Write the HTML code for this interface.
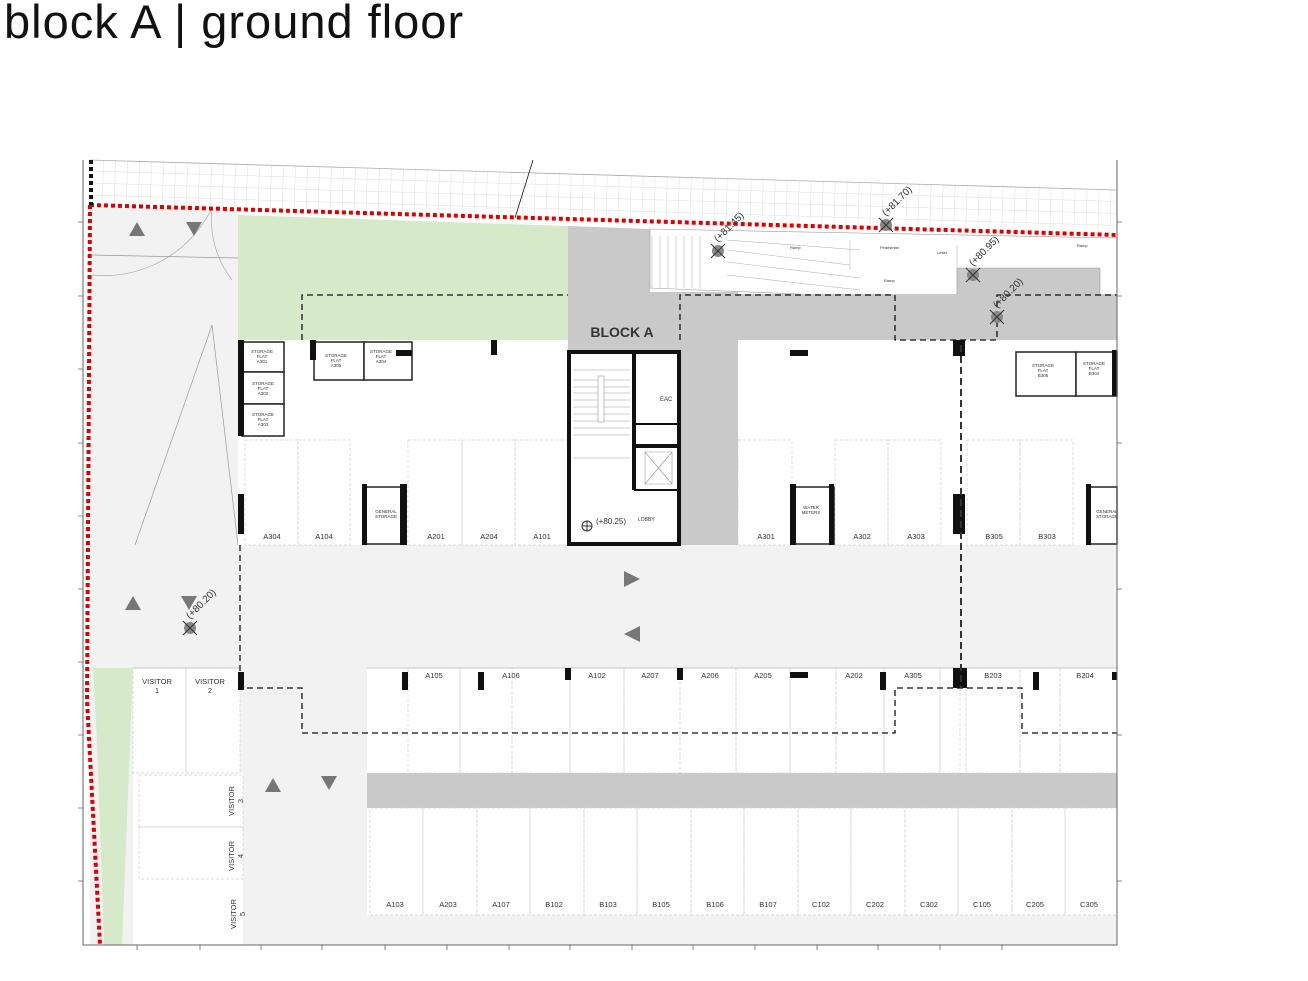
<!DOCTYPE html>
<html><head><meta charset="utf-8"><style>
html,body{margin:0;padding:0;background:#fff;width:1308px;height:981px;overflow:hidden}
.t{position:absolute;left:4px;top:-6px;font-family:"Liberation Sans",sans-serif;font-size:47px;font-weight:300;color:#111;letter-spacing:1px}
svg{position:absolute;left:0;top:0}
text{font-family:"Liberation Sans",sans-serif;fill:#333}
</style></head><body>
<div class="t">block A | ground floor</div>
<svg width="1308" height="981" viewBox="0 0 1308 981">
<defs>
<pattern id="h" width="12" height="12" patternUnits="userSpaceOnUse" patternTransform="rotate(1.7)">
<path d="M0 0H12M0 0V12" stroke="#d4d4d4" stroke-width="0.7" fill="none"/></pattern>
</defs>
<polygon points="90,160 1117,190 1117,235 90,205" fill="url(#h)"/>
<line x1="90" y1="160" x2="1117" y2="190" stroke="#aaa" stroke-width="0.8"/>
<rect x="90" y="208" width="148" height="337" fill="#f2f2f2"/>
<path d="M90 255L238 258 M135 545L212 325L238 545" stroke="#999" stroke-width="0.7" fill="none"/>
<path d="M92 275A120 120 0 0 0 212 208 M212 208A100 100 0 0 0 232 280" stroke="#aaa" stroke-width="0.7" fill="none"/>
<polygon points="137,222 129,236 145,236" fill="#777"/>
<polygon points="186,222 202,222 194,236" fill="#777"/>
<polygon points="238,215 568,226 568,340 238,340" fill="#d6e9c9"/>
<polygon points="568,226 650,229 650,295 680,295 680,545 738,545 738,340 1117,340 1117,295 1100,295 1100,268 957,268 957,295 650,295 650,350 568,350" fill="#c9c9c9"/>
<polygon points="650,229 1117,238 1117,295 1100,295 1100,268 957,268 957,295 895,298 650,288" fill="#fff" stroke="#999" stroke-width="0.6"/>
<rect x="568" y="292" width="170" height="60" fill="#c9c9c9"/>
<rect x="650" y="294" width="467" height="46" fill="#c9c9c9"/>
<g stroke="#aaa" stroke-width="0.5" fill="none">
<path d="M652 236V288 M660 236V288 M668 236V288 M676 236V288 M684 236V288 M692 236V288 M700 236V288"/>
<path d="M727 240L860 250 M727 250L850 265 M727 262L860 278 M727 275L860 290 M850 240V270 M957 245V268"/>
</g>
<text x="790" y="249" font-size="4">Ramp</text><text x="880" y="249" font-size="4">Pedestrian</text>
<text x="937" y="254" font-size="4">Letter</text><text x="884" y="282" font-size="4">Ramp</text><text x="1077" y="247" font-size="4">Ramp</text>
<rect x="238" y="340" width="330" height="205" fill="#fff"/>
<rect x="738" y="340" width="379" height="205" fill="#fff"/>
<rect x="568" y="350" width="112" height="195" fill="#fff"/>
<rect x="90" y="545" width="1027" height="123" fill="#f2f2f2"/>
<rect x="240" y="668" width="127" height="277" fill="#f2f2f2"/>
<rect x="90" y="668" width="43" height="277" fill="#f2f2f2"/>
<polygon points="93,668 133,668 122,945 104,945 97,740" fill="#d6e9c9"/>
<rect x="133" y="668" width="107" height="105" fill="#fff"/>
<rect x="137" y="773" width="106" height="172" fill="#fff"/>
<rect x="367" y="668" width="750" height="105" fill="#fff"/>
<rect x="367" y="773" width="750" height="35" fill="#c9c9c9"/>
<rect x="367" y="808" width="750" height="107" fill="#fff"/>
<rect x="367" y="915" width="750" height="30" fill="#f2f2f2"/>
<g stroke="#d0d0d0" stroke-width="0.7" stroke-dasharray="3,2" fill="none">
<rect x="245" y="440" width="53" height="105"/><rect x="298" y="440" width="52" height="105"/>
<rect x="408" y="440" width="54" height="105"/><rect x="462" y="440" width="53" height="105"/><rect x="515" y="440" width="53" height="105"/>
<rect x="738" y="440" width="54" height="105"/><rect x="835" y="440" width="53" height="105"/><rect x="888" y="440" width="53" height="105"/>
<rect x="967" y="440" width="53" height="105"/><rect x="1020" y="440" width="53" height="105"/>
<rect x="133" y="668" width="53" height="105"/><rect x="186" y="668" width="54" height="105"/>
<rect x="139" y="775" width="104" height="52"/><rect x="139" y="827" width="104" height="52"/>
<rect x="408" y="668" width="52" height="105"/><rect x="460" y="668" width="52" height="105"/><rect x="512" y="668" width="58" height="105"/>
<rect x="570" y="668" width="54" height="105"/><rect x="624" y="668" width="56" height="105"/><rect x="680" y="668" width="56" height="105"/>
<rect x="736" y="668" width="54" height="105"/><rect x="790" y="668" width="46" height="105"/><rect x="836" y="668" width="48" height="105"/>
<rect x="884" y="668" width="56" height="105"/><rect x="940" y="668" width="20" height="105"/><rect x="966" y="668" width="54" height="105"/>
<rect x="1020" y="668" width="40" height="105"/><rect x="1060" y="668" width="57" height="105"/>
<rect x="370" y="808" width="53" height="107"/><rect x="423" y="808" width="54" height="107"/><rect x="477" y="808" width="53" height="107"/>
<rect x="530" y="808" width="54" height="107"/><rect x="584" y="808" width="53" height="107"/><rect x="637" y="808" width="54" height="107"/>
<rect x="691" y="808" width="53" height="107"/><rect x="744" y="808" width="54" height="107"/><rect x="798" y="808" width="53" height="107"/>
<rect x="851" y="808" width="54" height="107"/><rect x="905" y="808" width="53" height="107"/><rect x="958" y="808" width="54" height="107"/>
<rect x="1012" y="808" width="53" height="107"/><rect x="1065" y="808" width="52" height="107"/>
</g>
<line x1="367" y1="668" x2="1117" y2="668" stroke="#bbb" stroke-width="0.8"/>
<line x1="133" y1="668" x2="240" y2="668" stroke="#bbb" stroke-width="0.8"/>
<g fill="#fff" stroke="#222" stroke-width="1.5">
<rect x="242" y="342" width="42" height="30"/><rect x="242" y="372" width="42" height="32"/><rect x="242" y="404" width="42" height="32"/>
<rect x="314" y="342" width="50" height="38"/><rect x="364" y="342" width="48" height="38"/>
<rect x="364" y="487" width="40" height="57"/>
<rect x="794" y="487" width="40" height="57"/>
<rect x="1016" y="352" width="60" height="44"/><rect x="1076" y="352" width="41" height="44"/>
<rect x="1088" y="487" width="29" height="57"/>
</g>
<g fill="#111">
<rect x="238" y="340" width="6" height="96"/><rect x="310" y="340" width="6" height="20"/><rect x="396" y="350" width="16" height="6"/>
<rect x="491" y="340" width="6" height="15"/><rect x="790" y="350" width="18" height="6"/>
<rect x="238" y="494" width="6" height="40"/><rect x="400" y="484" width="7" height="61"/><rect x="362" y="484" width="5" height="61"/>
<rect x="790" y="484" width="6" height="61"/><rect x="829" y="484" width="5" height="61"/>
<rect x="953" y="340" width="12" height="16"/><rect x="953" y="494" width="12" height="40"/><rect x="953" y="668" width="14" height="20"/>
<rect x="1086" y="484" width="5" height="61"/><rect x="1112" y="350" width="5" height="46"/>
<rect x="402" y="672" width="6" height="18"/><rect x="478" y="672" width="6" height="18"/><rect x="565" y="668" width="6" height="12"/>
<rect x="677" y="668" width="6" height="12"/><rect x="790" y="672" width="18" height="6"/><rect x="880" y="672" width="6" height="18"/>
<rect x="1033" y="672" width="6" height="18"/><rect x="1112" y="672" width="5" height="8"/><rect x="238" y="672" width="6" height="18"/>
</g>
<g font-size="4.5" text-anchor="middle">
<text x="262" y="353">STORAGE</text><text x="262" y="358">FLAT</text><text x="262" y="363">A301</text>
<text x="263" y="385">STORAGE</text><text x="263" y="390">FLAT</text><text x="263" y="395">A302</text>
<text x="263" y="416">STORAGE</text><text x="263" y="421">FLAT</text><text x="263" y="426">A303</text>
<text x="336" y="357">STORAGE</text><text x="336" y="362">FLAT</text><text x="336" y="367">A305</text>
<text x="381" y="353">STORAGE</text><text x="381" y="358">FLAT</text><text x="381" y="363">A304</text>
<text x="386" y="513">GENERAL</text><text x="386" y="518">STORAGE</text>
<text x="811" y="509">WATER</text><text x="811" y="514">METERS</text>
<text x="1043" y="367">STORAGE</text><text x="1043" y="372">FLAT</text><text x="1043" y="377">B305</text>
<text x="1094" y="365">STORAGE</text><text x="1094" y="370">FLAT</text><text x="1094" y="375">B304</text>
<text x="1107" y="513">GENERAL</text><text x="1107" y="518">STORAGE</text>
</g>
<g fill="none" stroke="#111">
<rect x="569" y="352" width="110" height="192" stroke-width="4"/>
<line x1="634" y1="352" x2="634" y2="490" stroke-width="4"/>
<line x1="634" y1="446" x2="679" y2="446" stroke-width="4"/>
<line x1="634" y1="490" x2="679" y2="490" stroke-width="2"/>
<line x1="636" y1="424" x2="679" y2="424" stroke-width="2"/>
</g>
<g stroke="#999" stroke-width="0.6">
<path d="M573 370H630M573 380H630M573 387H630M573 393H630M573 400H630M573 407H630M573 414H630M573 421H630M573 428H630M573 435H630M573 458H630"/>
<rect x="598" y="376" width="6" height="46" fill="#fff"/><path d="M645 452H672V484H645ZM645 452L672 484M672 452L645 484" fill="none"/>
</g>
<text x="622" y="337" font-size="14" font-weight="bold" text-anchor="middle" fill="#333">BLOCK A</text>
<text x="660" y="401" font-size="6">EAC</text><text x="638" y="521" font-size="5">LOBBY</text>
<text x="596" y="524" font-size="8" fill="#555">(+80.25)</text>
<circle cx="587" cy="526" r="5" fill="none" stroke="#333"/><path d="M582 526H592M587 521V531" stroke="#333"/>
<g fill="none" stroke="#111" stroke-width="1.3" stroke-dasharray="6,4">
<path d="M302 340V295H568"/><path d="M680 340V295H895V340H997V295H1117"/>
<path d="M240 545V688H302V733H895V688H1022V733H1117"/>
</g>
<line x1="961" y1="345" x2="961" y2="688" stroke="#333" stroke-width="2" stroke-dasharray="7,4"/>
<g fill="none" stroke="#d00" stroke-width="4" stroke-dasharray="4,3">
<path d="M90 205L1117 235"/><path d="M90 205L87 700L100 945"/>
</g>
<path d="M91 160V205" stroke="#111" stroke-width="4" stroke-dasharray="4,3"/>
<path d="M533 160L515 218" stroke="#111" stroke-width="0.8"/>
<g fill="#777">
<polygon points="624,571 640,579 624,587"/><polygon points="640,626 624,634 640,642"/>
<polygon points="133,596 125,610 141,610"/><polygon points="181,596 197,596 189,610"/>
<polygon points="273,778 265,792 281,792"/><polygon points="321,776 337,776 329,790"/>
</g>
<g font-size="10" fill="#555">
<g transform="translate(190,628)"><circle r="6" fill="#888"/><path d="M-7-7L7 7M7-7L-7 7" stroke="#333"/><text x="6" y="-6" transform="rotate(-45)">(+80.20)</text></g>
<g transform="translate(718,251)"><circle r="6" fill="#888"/><path d="M-7-7L7 7M7-7L-7 7" stroke="#333"/><text x="6" y="-6" transform="rotate(-45)">(+81.45)</text></g>
<g transform="translate(886,225)"><circle r="6" fill="#888"/><path d="M-7-7L7 7M7-7L-7 7" stroke="#333"/><text x="6" y="-6" transform="rotate(-45)">(+81.70)</text></g>
<g transform="translate(973,275)"><circle r="6" fill="#888"/><path d="M-7-7L7 7M7-7L-7 7" stroke="#333"/><text x="6" y="-6" transform="rotate(-45)">(+80.95)</text></g>
<g transform="translate(997,317)"><circle r="6" fill="#888"/><path d="M-7-7L7 7M7-7L-7 7" stroke="#333"/><text x="6" y="-6" transform="rotate(-45)">(+80.20)</text></g>
</g>
<g font-size="7.5" text-anchor="middle">
<text x="272" y="539">A304</text><text x="324" y="539">A104</text><text x="436" y="539">A201</text><text x="489" y="539">A204</text><text x="542" y="539">A101</text>
<text x="766" y="539">A301</text><text x="862" y="539">A302</text><text x="916" y="539">A303</text><text x="994" y="539">B305</text><text x="1047" y="539">B303</text>
<text x="434" y="678">A105</text><text x="511" y="678">A106</text><text x="597" y="678">A102</text><text x="650" y="678">A207</text><text x="710" y="678">A206</text>
<text x="763" y="678">A205</text><text x="854" y="678">A202</text><text x="913" y="678">A305</text><text x="993" y="678">B203</text><text x="1085" y="678">B204</text>
<text x="395" y="907">A103</text><text x="448" y="907">A203</text><text x="501" y="907">A107</text><text x="554" y="907">B102</text><text x="608" y="907">B103</text>
<text x="661" y="907">B105</text><text x="715" y="907">B106</text><text x="768" y="907">B107</text><text x="821" y="907">C102</text><text x="875" y="907">C202</text>
<text x="929" y="907">C302</text><text x="982" y="907">C105</text><text x="1035" y="907">C205</text><text x="1089" y="907">C305</text>
<text x="157" y="684">VISITOR</text><text x="157" y="693">1</text><text x="210" y="684">VISITOR</text><text x="210" y="693">2</text>
<text transform="translate(234,801) rotate(-90)">VISITOR</text><text transform="translate(243,801) rotate(-90)">3</text>
<text transform="translate(234,856) rotate(-90)">VISITOR</text><text transform="translate(243,856) rotate(-90)">4</text>
<text transform="translate(236,914) rotate(-90)">VISITOR</text><text transform="translate(245,914) rotate(-90)">5</text>
</g>
<path d="M83 160V945H1117V160" fill="none" stroke="#666" stroke-width="1"/>
<g stroke="#666" stroke-width="0.8">
<path d="M137 945V950M200 945V950M261 945V950M322 945V950M385 945V950M447 945V950M509 945V950M570 945V950M632 945V950M693 945V950M755 945V950M817 945V950M878 945V950M940 945V950M1002 945V950"/>
<path d="M78 222H83M78 296H83M78 369H83M78 443H83M78 516H83M78 589H83M78 662H83M78 735H83M78 808H83M78 881H83"/>
<path d="M1117 222H1122M1117 296H1122M1117 443H1122M1117 589H1122M1117 735H1122M1117 881H1122"/>
</g>
</svg>
</body></html>
